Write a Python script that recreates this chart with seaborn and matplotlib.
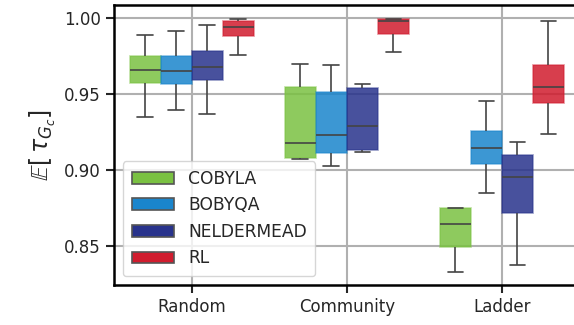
import matplotlib
matplotlib.use("Agg")
import matplotlib.pyplot as plt
from matplotlib.patches import Patch
import seaborn as sns
import pandas as pd

graphs = ["Random", "Community", "Ladder"]
methods = ["COBYLA", "BOBYQA", "NELDERMEAD", "RL"]
colors = ["#7ac142", "#1a85cc", "#28338c", "#d01c2e"]

# five values per box: min, q1, median, q3, max
vals = {
    ("Random", "COBYLA"): [0.9349, 0.9574, 0.9658, 0.9748, 0.9890],
    ("Random", "BOBYQA"): [0.9395, 0.9568, 0.9650, 0.9748, 0.9914],
    ("Random", "NELDERMEAD"): [0.9370, 0.9590, 0.9678, 0.9780, 0.9954],
    ("Random", "RL"): [0.9757, 0.9880, 0.9943, 0.9978, 0.9996],
    ("Community", "COBYLA"): [0.9072, 0.9077, 0.9180, 0.9546, 0.9700],
    ("Community", "BOBYQA"): [0.9026, 0.9110, 0.9232, 0.9511, 0.9693],
    ("Community", "NELDERMEAD"): [0.9118, 0.9132, 0.9291, 0.9541, 0.9568],
    ("Community", "RL"): [0.9778, 0.9893, 0.9982, 0.9991, 0.9996],
    ("Ladder", "COBYLA"): [0.8329, 0.8491, 0.8647, 0.8748, 0.8752],
    ("Ladder", "BOBYQA"): [0.8849, 0.9040, 0.9147, 0.9254, 0.9456],
    ("Ladder", "NELDERMEAD"): [0.8373, 0.8719, 0.8952, 0.9099, 0.9186],
    ("Ladder", "RL"): [0.9239, 0.9439, 0.9548, 0.9691, 0.9982],
}

rows = []
for (g, m), v in vals.items():
    for x in v:
        rows.append({"graph": g, "method": m, "tau": x})
df = pd.DataFrame(rows)

sns.set_style("ticks")
plt.rcParams["font.family"] = ["DejaVu Sans"]

fig = plt.figure(figsize=(5.74, 3.25), dpi=100)
ax = fig.add_axes([114 / 574, 40 / 325, (579.5 - 114) / 574, 280 / 325])

sns.boxplot(data=df, x="graph", y="tau", hue="method", order=graphs,
            hue_order=methods, palette=colors, saturation=1, whis=(0, 100),
            width=0.8, gap=0, linecolor="#444444", linewidth=1.2,
            legend=False, ax=ax)

for p in ax.patches:
    fc = p.get_facecolor()
    p.set_facecolor((fc[0], fc[1], fc[2], 0.85))
    p.set_edgecolor((fc[0], fc[1], fc[2], 0.5))

ax.grid(True, color="#b0b0b0", linewidth=1.5)
ax.set_axisbelow(True)
ax.set_xlim(-0.5, 2.5)
ax.set_ylim(0.8243, 1.0086)
ax.set_yticks([0.85, 0.90, 0.95, 1.00])
ax.set_yticklabels(["0.85", "0.90", "0.95", "1.00"])
ax.tick_params(labelsize=12, length=6, width=1.5)
for s in ax.spines.values():
    s.set_linewidth(1.8)
    s.set_color("black")
ax.set_xlabel("")
ax.set_ylabel(r"$\mathbb{E}[\,\tau_{G_c}]$", fontsize=17)

handles = [Patch(facecolor=c, edgecolor="#555555", linewidth=1.2, label=m)
           for c, m in zip(colors, methods)]
ax.legend(handles=handles, loc="lower left", fontsize=12.3,
          bbox_to_anchor=(0.0193, 0.032), borderaxespad=0, frameon=True,
          framealpha=0.8, edgecolor="#cccccc", handlelength=2.5,
          labelspacing=0.5, borderpad=0.5)

fig.savefig("out.png", dpi=100)
